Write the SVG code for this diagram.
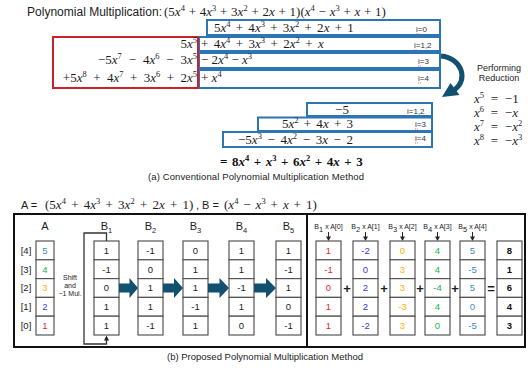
<svg xmlns="http://www.w3.org/2000/svg" width="528" height="368" viewBox="0 0 528 368">
<style>
text { fill:#1c1c1c; }
.sans { font-family:"Liberation Sans", Arial, sans-serif; }
.m { font-family:"Liberation Serif", "Times New Roman", serif; font-size:13px; }
.i { font-style:italic; }
.sp { font-size:8.5px; baseline-shift:5px; }
.sb { font-size:7.5px; baseline-shift:-3px; }
.lbl { font-family:"Liberation Sans", Arial, sans-serif; font-size:8px; fill:#333; }
.squig { stroke:#e04040; stroke-width:0.8; stroke-dasharray:1 0.8; }
.blue { fill:none; stroke:#2e75b6; stroke-width:2; }
.red { fill:none; stroke:#c8232c; stroke-width:2; }
.cell { fill:#fff; stroke:#555; stroke-width:1.2; }
.ct { font-family:"Liberation Sans", Arial, sans-serif; font-size:9.5px; text-anchor:middle; }
.hd { font-family:"Liberation Sans", Arial, sans-serif; font-size:11px; text-anchor:middle; }
.sm { font-family:"Liberation Sans", Arial, sans-serif; font-size:7px; text-anchor:middle; }
.fat { fill:#11506f; }
.op { font-family:"Liberation Sans", Arial, sans-serif; font-size:13px; font-weight:bold; text-anchor:middle; }
.cap { font-family:"Liberation Sans", Arial, sans-serif; font-size:9.5px; }
.c0 { fill:#e8262a; } .c1 { fill:#3a3ae6; } .c2 { fill:#ffb300; } .c3 { fill:#22b14c; } .c4 { fill:#3a8fc4; }
.bold { font-weight:bold; fill:#111; }
</style>

<!-- (a) conventional method -->
<g id="title">
  <text class="sans" x="27" y="16" font-size="12" textLength="135" lengthAdjust="spacingAndGlyphs">Polynomial Multiplication:</text>
  <text class="m" x="164" y="16" word-spacing="0.5">(5<tspan class="i">x</tspan><tspan class="sp">4</tspan> + 4<tspan class="i">x</tspan><tspan class="sp">3</tspan> + 3<tspan class="i">x</tspan><tspan class="sp">2</tspan> + 2<tspan class="i">x</tspan> + 1)(<tspan class="i">x</tspan><tspan class="sp">4</tspan> − <tspan class="i">x</tspan><tspan class="sp">3</tspan> + <tspan class="i">x</tspan> + 1)</text>
</g>

<g id="partial-products">
  <rect class="blue" x="207" y="20" width="233" height="15"/>
  <rect class="blue" x="199" y="37" width="241" height="14"/>
  <rect class="blue" x="199" y="53" width="241" height="15"/>
  <rect class="blue" x="199" y="70" width="241" height="18"/>
  <rect class="red" x="53" y="37" width="145" height="51"/>

  <text class="m" x="214" y="32" word-spacing="2">5<tspan class="i">x</tspan><tspan class="sp">4</tspan> + 4<tspan class="i">x</tspan><tspan class="sp">3</tspan> + 3<tspan class="i">x</tspan><tspan class="sp">2</tspan> + 2<tspan class="i">x</tspan> + 1</text>
  <text class="m" x="201" y="48" word-spacing="2.2">+ 4<tspan class="i">x</tspan><tspan class="sp">4</tspan> + 3<tspan class="i">x</tspan><tspan class="sp">3</tspan> + 2<tspan class="i">x</tspan><tspan class="sp">2</tspan> + <tspan class="i">x</tspan></text>
  <text class="m" x="201" y="64">− 2<tspan class="i">x</tspan><tspan class="sp">4</tspan> − <tspan class="i">x</tspan><tspan class="sp">3</tspan></text>
  <text class="m" x="201" y="82">+ <tspan class="i">x</tspan><tspan class="sp">4</tspan></text>

  <text class="m" x="197" y="48" text-anchor="end">5<tspan class="i">x</tspan><tspan class="sp">5</tspan></text>
  <text class="m" x="197" y="64" text-anchor="end" word-spacing="3.6">−5<tspan class="i">x</tspan><tspan class="sp">7</tspan> − 4<tspan class="i">x</tspan><tspan class="sp">6</tspan> − 3<tspan class="i">x</tspan><tspan class="sp">5</tspan></text>
  <text class="m" x="197" y="82" text-anchor="end" word-spacing="3.2">+5<tspan class="i">x</tspan><tspan class="sp">8</tspan> + 4<tspan class="i">x</tspan><tspan class="sp">7</tspan> + 3<tspan class="i">x</tspan><tspan class="sp">6</tspan> + 2<tspan class="i">x</tspan><tspan class="sp">5</tspan></text>

  <text class="lbl" x="416" y="32">i=0</text>
  <text class="lbl" x="414" y="48">i=1,2</text>
  <text class="lbl" x="418" y="64">i=3</text>
  <text class="lbl" x="418" y="81">i=4</text>
  <path class="squig" d="M416 34H419 M414 50H417 M418 66H421 M418 83H421"/>
</g>

<g id="reduction-arrow">
  <path d="M441 56 C462 58 469 80 454 90" fill="none" stroke="#11506f" stroke-width="5"/>
  <polygon class="fat" points="442,97 450.5,83 459.5,95"/>
  <text class="sans" x="499" y="71" font-size="9" text-anchor="middle" fill="#333">Performing</text>
  <text class="sans" x="499" y="81" font-size="9" text-anchor="middle" fill="#333">Reduction</text>
</g>

<g id="reduction-rules">
  <text class="m" x="474" y="103" word-spacing="3.5"><tspan class="i">x</tspan><tspan class="sp">5</tspan> = −1</text>
  <text class="m" x="474" y="117" word-spacing="3.5"><tspan class="i">x</tspan><tspan class="sp">6</tspan> = −<tspan class="i">x</tspan></text>
  <text class="m" x="474" y="131" word-spacing="3.5"><tspan class="i">x</tspan><tspan class="sp">7</tspan> = −<tspan class="i">x</tspan><tspan class="sp">2</tspan></text>
  <text class="m" x="474" y="145" word-spacing="3.5"><tspan class="i">x</tspan><tspan class="sp">8</tspan> = −<tspan class="i">x</tspan><tspan class="sp">3</tspan></text>
</g>

<g id="reduced-terms">
  <rect class="blue" x="307" y="103" width="125" height="13"/>
  <rect class="blue" x="258" y="117.5" width="174" height="13.5"/>
  <rect class="blue" x="223" y="132" width="209" height="15"/>
  <text class="m" x="342" y="114" text-anchor="middle">−5</text>
  <text class="m" x="282" y="128" word-spacing="2">5<tspan class="i">x</tspan><tspan class="sp">2</tspan> + 4<tspan class="i">x</tspan> + 3</text>
  <text class="m" x="238" y="144" word-spacing="2.4">−5<tspan class="i">x</tspan><tspan class="sp">3</tspan> − 4<tspan class="i">x</tspan><tspan class="sp">2</tspan> − 3<tspan class="i">x</tspan> − 2</text>
  <text class="lbl" x="407" y="114">i=1,2</text>
  <text class="lbl" x="415" y="127">i=3</text>
  <text class="lbl" x="415" y="141">i=4</text>
  <path class="squig" d="M407 116H410 M415 129H418 M415 143H418"/>
</g>

<g id="result-a">
  <text class="m bold" x="220" y="166" word-spacing="1.3">= 8<tspan class="i">x</tspan><tspan class="sp">4</tspan> + <tspan class="i">x</tspan><tspan class="sp">3</tspan> + 6<tspan class="i">x</tspan><tspan class="sp">2</tspan> + 4<tspan class="i">x</tspan> + 3</text>
</g>
<text class="cap" x="148" y="180" textLength="216">(a) Conventional Polynomial Multiplication Method</text>

<!-- (b) proposed method -->
<g id="operands">
  <text class="sans" x="21" y="209" font-size="11">A =</text>
  <text class="m" x="45" y="209" word-spacing="2">(5<tspan class="i">x</tspan><tspan class="sp">4</tspan> + 4<tspan class="i">x</tspan><tspan class="sp">3</tspan> + 3<tspan class="i">x</tspan><tspan class="sp">2</tspan> + 2<tspan class="i">x</tspan> + 1)</text>
  <text class="sans" x="196" y="209" font-size="11">, B =</text>
  <text class="m" x="224" y="209" word-spacing="1.7">(<tspan class="i">x</tspan><tspan class="sp">4</tspan> − <tspan class="i">x</tspan><tspan class="sp">3</tspan> + <tspan class="i">x</tspan> + 1)</text>
</g>

<g id="frame">
  <rect x="14" y="214" width="511" height="133" fill="none" stroke="#111" stroke-width="2"/>
  <line x1="307" y1="214" x2="307" y2="347" stroke="#111" stroke-width="2"/>
</g>

<g id="col-A">
  <text class="hd" x="45" y="230">A</text>
  <rect class="cell" x="36" y="241" width="18" height="18.8"/>
  <rect class="cell" x="36" y="259.8" width="18" height="18.8"/>
  <rect class="cell" x="36" y="278.6" width="18" height="18.8"/>
  <rect class="cell" x="36" y="297.4" width="18" height="18.8"/>
  <rect class="cell" x="36" y="316.2" width="18" height="18.8"/>
  <text class="ct c4" x="45" y="253.7">5</text>
  <text class="ct c3" x="45" y="272.5">4</text>
  <text class="ct c2" x="45" y="291.3">3</text>
  <text class="ct c1" x="45" y="310.1">2</text>
  <text class="ct c0" x="45" y="328.9">1</text>
  <text class="ct" x="26" y="253.7">[4]</text>
  <text class="ct" x="26" y="272.5">[3]</text>
  <text class="ct" x="26" y="291.3">[2]</text>
  <text class="ct" x="26" y="310.1">[1]</text>
  <text class="ct" x="26" y="328.9">[0]</text>
</g>

<g id="shift-note">
  <text class="sm" x="70" y="280">Shift</text>
  <text class="sm" x="70" y="288">and</text>
  <text class="sm" x="70" y="296">−1 Mul.</text>
</g>

<g id="col-B1">
  <text class="hd" x="106.5" y="230">B<tspan class="sb">1</tspan></text>
  <rect class="cell" x="94" y="241" width="25" height="18.8"/>
  <rect class="cell" x="94" y="259.8" width="25" height="18.8"/>
  <rect class="cell" x="94" y="278.6" width="25" height="18.8"/>
  <rect class="cell" x="94" y="297.4" width="25" height="18.8"/>
  <rect class="cell" x="94" y="316.2" width="25" height="18.8"/>
  <text class="ct" x="106.5" y="253.7">1</text>
  <text class="ct" x="106.5" y="272.5">-1</text>
  <text class="ct" x="106.5" y="291.3">0</text>
  <text class="ct" x="106.5" y="310.1">1</text>
  <text class="ct" x="106.5" y="328.9">1</text>
</g>

<g id="col-B2">
  <text class="hd" x="150.5" y="230">B<tspan class="sb">2</tspan></text>
  <rect class="cell" x="138" y="241" width="25" height="18.8"/>
  <rect class="cell" x="138" y="259.8" width="25" height="18.8"/>
  <rect class="cell" x="138" y="278.6" width="25" height="18.8"/>
  <rect class="cell" x="138" y="297.4" width="25" height="18.8"/>
  <rect class="cell" x="138" y="316.2" width="25" height="18.8"/>
  <text class="ct" x="150.5" y="253.7">-1</text>
  <text class="ct" x="150.5" y="272.5">0</text>
  <text class="ct" x="150.5" y="291.3">1</text>
  <text class="ct" x="150.5" y="310.1">1</text>
  <text class="ct" x="150.5" y="328.9">-1</text>
</g>

<g id="col-B3">
  <text class="hd" x="195.5" y="230">B<tspan class="sb">3</tspan></text>
  <rect class="cell" x="183" y="241" width="25" height="18.8"/>
  <rect class="cell" x="183" y="259.8" width="25" height="18.8"/>
  <rect class="cell" x="183" y="278.6" width="25" height="18.8"/>
  <rect class="cell" x="183" y="297.4" width="25" height="18.8"/>
  <rect class="cell" x="183" y="316.2" width="25" height="18.8"/>
  <text class="ct" x="195.5" y="253.7">0</text>
  <text class="ct" x="195.5" y="272.5">1</text>
  <text class="ct" x="195.5" y="291.3">1</text>
  <text class="ct" x="195.5" y="310.1">-1</text>
  <text class="ct" x="195.5" y="328.9">1</text>
</g>

<g id="col-B4">
  <text class="hd" x="241.5" y="230">B<tspan class="sb">4</tspan></text>
  <rect class="cell" x="229" y="241" width="25" height="18.8"/>
  <rect class="cell" x="229" y="259.8" width="25" height="18.8"/>
  <rect class="cell" x="229" y="278.6" width="25" height="18.8"/>
  <rect class="cell" x="229" y="297.4" width="25" height="18.8"/>
  <rect class="cell" x="229" y="316.2" width="25" height="18.8"/>
  <text class="ct" x="241.5" y="253.7">1</text>
  <text class="ct" x="241.5" y="272.5">1</text>
  <text class="ct" x="241.5" y="291.3">-1</text>
  <text class="ct" x="241.5" y="310.1">1</text>
  <text class="ct" x="241.5" y="328.9">0</text>
</g>

<g id="col-B5">
  <text class="hd" x="288.5" y="230">B<tspan class="sb">5</tspan></text>
  <rect class="cell" x="276" y="241" width="25" height="18.8"/>
  <rect class="cell" x="276" y="259.8" width="25" height="18.8"/>
  <rect class="cell" x="276" y="278.6" width="25" height="18.8"/>
  <rect class="cell" x="276" y="297.4" width="25" height="18.8"/>
  <rect class="cell" x="276" y="316.2" width="25" height="18.8"/>
  <text class="ct" x="288.5" y="253.7">1</text>
  <text class="ct" x="288.5" y="272.5">-1</text>
  <text class="ct" x="288.5" y="291.3">1</text>
  <text class="ct" x="288.5" y="310.1">0</text>
  <text class="ct" x="288.5" y="328.9">-1</text>
</g>

<g id="connectors">
  <!-- shift loop around B1 -->
  <path d="M106.5 241V233H84V344H106.5V339" fill="none" stroke="#333" stroke-width="1.3"/>
  <polygon points="106.5,335.5 104,340.5 109,340.5" fill="#222"/>
  <!-- block arrows between B columns -->
  <path class="fat" d="M119 283.5H129.5V278L138 288L129.5 298V292.5H119Z"/>
  <path class="fat" d="M163 283.5H174V278L183 288L174 298V292.5H163Z"/>
  <path class="fat" d="M208 283.5H219.5V278L229 288L219.5 298V292.5H208Z"/>
  <path class="fat" d="M254 283.5H266V278L276 288L266 298V292.5H254Z"/>
  <!-- small arrows into product columns -->
  <g stroke="#222" stroke-width="1">
    <line x1="328.5" y1="232" x2="328.5" y2="238"/>
    <line x1="365.5" y1="232" x2="365.5" y2="238"/>
    <line x1="402.5" y1="232" x2="402.5" y2="238"/>
    <line x1="437.5" y1="232" x2="437.5" y2="238"/>
    <line x1="472.5" y1="232" x2="472.5" y2="238"/>
  </g>
  <g fill="#222">
    <polygon points="328.5,241 326,236.5 331,236.5"/>
    <polygon points="365.5,241 363,236.5 368,236.5"/>
    <polygon points="402.5,241 400,236.5 405,236.5"/>
    <polygon points="437.5,241 435,236.5 440,236.5"/>
    <polygon points="472.5,241 470,236.5 475,236.5"/>
  </g>
</g>

<g id="prod-1">
  <text class="sm" x="328.5" y="229">B<tspan class="sb" font-size="5">1</tspan> x A[0]</text>
  <rect class="cell" x="316" y="241" width="25" height="18.8"/>
  <rect class="cell" x="316" y="259.8" width="25" height="18.8"/>
  <rect class="cell" x="316" y="278.6" width="25" height="18.8"/>
  <rect class="cell" x="316" y="297.4" width="25" height="18.8"/>
  <rect class="cell" x="316" y="316.2" width="25" height="18.8"/>
  <text class="ct c0" x="328.5" y="253.7">1</text>
  <text class="ct c0" x="328.5" y="272.5">-1</text>
  <text class="ct c0" x="328.5" y="291.3">0</text>
  <text class="ct c0" x="328.5" y="310.1">1</text>
  <text class="ct c0" x="328.5" y="328.9">1</text>
</g>

<g id="prod-2">
  <text class="sm" x="365.5" y="229">B<tspan class="sb" font-size="5">2</tspan> x A[1]</text>
  <rect class="cell" x="353" y="241" width="25" height="18.8"/>
  <rect class="cell" x="353" y="259.8" width="25" height="18.8"/>
  <rect class="cell" x="353" y="278.6" width="25" height="18.8"/>
  <rect class="cell" x="353" y="297.4" width="25" height="18.8"/>
  <rect class="cell" x="353" y="316.2" width="25" height="18.8"/>
  <text class="ct c1" x="365.5" y="253.7">-2</text>
  <text class="ct c1" x="365.5" y="272.5">0</text>
  <text class="ct c1" x="365.5" y="291.3">2</text>
  <text class="ct c1" x="365.5" y="310.1">2</text>
  <text class="ct c1" x="365.5" y="328.9">-2</text>
</g>

<g id="prod-3">
  <text class="sm" x="402.5" y="229">B<tspan class="sb" font-size="5">3</tspan> x A[2]</text>
  <rect class="cell" x="390" y="241" width="25" height="18.8"/>
  <rect class="cell" x="390" y="259.8" width="25" height="18.8"/>
  <rect class="cell" x="390" y="278.6" width="25" height="18.8"/>
  <rect class="cell" x="390" y="297.4" width="25" height="18.8"/>
  <rect class="cell" x="390" y="316.2" width="25" height="18.8"/>
  <text class="ct c2" x="402.5" y="253.7">0</text>
  <text class="ct c2" x="402.5" y="272.5">3</text>
  <text class="ct c2" x="402.5" y="291.3">3</text>
  <text class="ct c2" x="402.5" y="310.1">-3</text>
  <text class="ct c2" x="402.5" y="328.9">3</text>
</g>

<g id="prod-4">
  <text class="sm" x="437.5" y="229">B<tspan class="sb" font-size="5">4</tspan> x A[3]</text>
  <rect class="cell" x="425" y="241" width="25" height="18.8"/>
  <rect class="cell" x="425" y="259.8" width="25" height="18.8"/>
  <rect class="cell" x="425" y="278.6" width="25" height="18.8"/>
  <rect class="cell" x="425" y="297.4" width="25" height="18.8"/>
  <rect class="cell" x="425" y="316.2" width="25" height="18.8"/>
  <text class="ct c3" x="437.5" y="253.7">4</text>
  <text class="ct c3" x="437.5" y="272.5">4</text>
  <text class="ct c3" x="437.5" y="291.3">-4</text>
  <text class="ct c3" x="437.5" y="310.1">4</text>
  <text class="ct c3" x="437.5" y="328.9">0</text>
</g>

<g id="prod-5">
  <text class="sm" x="472.5" y="229">B<tspan class="sb" font-size="5">5</tspan> x A[4]</text>
  <rect class="cell" x="460" y="241" width="25" height="18.8"/>
  <rect class="cell" x="460" y="259.8" width="25" height="18.8"/>
  <rect class="cell" x="460" y="278.6" width="25" height="18.8"/>
  <rect class="cell" x="460" y="297.4" width="25" height="18.8"/>
  <rect class="cell" x="460" y="316.2" width="25" height="18.8"/>
  <text class="ct c4" x="472.5" y="253.7">5</text>
  <text class="ct c4" x="472.5" y="272.5">-5</text>
  <text class="ct c4" x="472.5" y="291.3">5</text>
  <text class="ct c4" x="472.5" y="310.1">0</text>
  <text class="ct c4" x="472.5" y="328.9">-5</text>
</g>

<g id="sum">
  <rect class="cell" x="497" y="241" width="25" height="18.8"/>
  <rect class="cell" x="497" y="259.8" width="25" height="18.8"/>
  <rect class="cell" x="497" y="278.6" width="25" height="18.8"/>
  <rect class="cell" x="497" y="297.4" width="25" height="18.8"/>
  <rect class="cell" x="497" y="316.2" width="25" height="18.8"/>
  <text class="ct bold" x="509.5" y="253.7">8</text>
  <text class="ct bold" x="509.5" y="272.5">1</text>
  <text class="ct bold" x="509.5" y="291.3">6</text>
  <text class="ct bold" x="509.5" y="310.1">4</text>
  <text class="ct bold" x="509.5" y="328.9">3</text>
</g>

<g id="operators">
  <text class="op" x="347" y="292.5">+</text>
  <text class="op" x="384" y="292.5">+</text>
  <text class="op" x="420" y="292.5">+</text>
  <text class="op" x="455" y="292.5">+</text>
  <text class="op" x="491" y="292.5">=</text>
</g>

<text class="cap" x="167" y="360" textLength="196">(b) Proposed Polynomial Multiplication Method</text>
</svg>
